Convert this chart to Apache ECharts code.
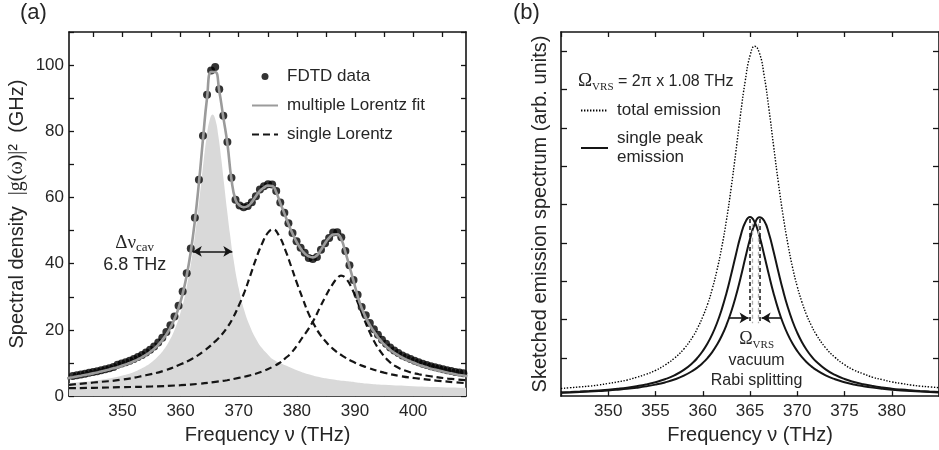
<!DOCTYPE html>
<html>
<head>
<meta charset="utf-8">
<script src="https://cdn.jsdelivr.net/npm/echarts@6/dist/echarts.min.js"></script>
<style>
  html, body { margin: 0; padding: 0; background: #ffffff; }
  #chart { width: 939px; height: 450px; }
</style>
</head>
<body>
<div id="chart"></div>
<script>
// ---------------- Panel (a): cavity spectral density ----------------
// Frequency grid of the FDTD samples (THz)
const fdtdFreq = [
  340.05, 340.75, 341.45, 342.15, 342.85, 343.55, 344.25, 344.95, 345.65, 346.35,
  347.05, 347.75, 348.45, 349.15, 349.85, 350.55, 351.25, 351.95, 352.65, 353.35,
  354.05, 354.75, 355.45, 356.15, 356.85, 357.55, 358.25, 358.95, 359.65, 360.35,
  361.05, 361.75, 362.45, 363.15, 363.85, 364.55, 365.25, 365.95, 366.65, 367.35,
  368.05, 368.75, 369.45, 370.15, 370.85, 371.55, 372.25, 372.95, 373.65, 374.35,
  375.05, 375.75, 376.45, 377.15, 377.85, 378.55, 379.25, 379.95, 380.65, 381.35,
  382.05, 382.75, 383.45, 384.15, 384.85, 385.55, 386.25, 386.95, 387.65, 388.35,
  389.05, 389.75, 390.45, 391.15, 391.85, 392.55, 393.25, 393.95, 394.65, 395.35,
  396.05, 396.75, 397.45, 398.15, 398.85, 399.55, 400.25, 400.95, 401.65, 402.35,
  403.05, 403.75, 404.45, 405.15, 405.85, 406.55, 407.25, 407.95, 408.65, 409.35
];
// FDTD spectral density |g(w)|^2 (GHz)
const fdtdData = [
  5.68, 5.89, 6.10, 6.32, 6.54, 6.77, 7.02, 7.27, 7.54, 7.82,
  8.12, 8.44, 8.78, 9.44, 9.84, 10.26, 10.71, 11.21, 11.78, 12.43,
  13.16, 14.00, 15.01, 16.20, 17.62, 19.33, 21.42, 24.02, 27.30, 31.57,
  37.13, 44.61, 53.87, 65.40, 78.64, 91.06, 98.4, 99.4, 92.7, 84.7,
  76.8, 66.0, 59.3, 57.6, 57.05, 57.4, 58.6, 60.4, 62.4, 63.4,
  64.0, 63.9, 62.0, 58.5, 55.4, 52.2, 49.3, 46.8, 44.8, 43.3,
  41.7, 41.4, 42.0, 44.2, 46.2, 47.8, 49.4, 49.5, 48.0, 43.8,
  39.5, 35.1, 30.6, 26.9, 24.4, 22.1, 20.2, 18.5, 17.0, 15.8,
  14.7, 13.8, 13.0, 12.3, 11.7, 11.2, 10.7, 10.2, 9.8, 9.4,
  9.0, 8.7, 8.4, 8.1, 7.8, 7.6, 7.3, 7.1, 6.9, 6.7
];
// Multiple Lorentz fit on the same grid
const lorentzFit = [
  5.28, 5.49, 5.70, 5.92, 6.14, 6.37, 6.62, 6.87, 7.14, 7.42,
  7.72, 8.04, 8.38, 8.74, 9.14, 9.56, 10.01, 10.51, 11.08, 11.73,
  12.46, 13.30, 14.31, 15.50, 16.92, 18.63, 20.72, 23.32, 26.60, 30.87,
  36.43, 43.61, 52.87, 64.40, 77.64, 90.06, 97.9, 97.9, 92.2, 84.2,
  76.3, 65.5, 59.3, 57.6, 57.05, 57.4, 58.6, 60.4, 62.0, 63.0,
  63.6, 63.5, 61.6, 58.3, 55.2, 52.0, 49.1, 46.6, 44.6, 43.1,
  42.2, 41.9, 42.5, 44.2, 46.2, 47.8, 48.8, 48.9, 47.4, 43.5,
  39.2, 34.8, 30.3, 26.6, 23.7, 21.4, 19.5, 17.8, 16.3, 15.1,
  14.0, 13.1, 12.3, 11.6, 11.0, 10.5, 10.0, 9.5, 9.1, 8.7,
  8.3, 8.0, 7.7, 7.4, 7.1, 6.9, 6.6, 6.4, 6.2, 6.0
];
// Cavity-mode Lorentzian (filled)
const cavityFreq = [
  340.8, 342, 344, 346, 348, 350, 352, 353, 354, 355,
  356, 357, 358, 359, 360, 361, 362, 362.5, 363, 363.5,
  364, 364.5, 365, 365.5, 366, 366.5, 367, 367.5, 368, 368.5,
  369, 370, 371, 372, 373, 374, 375, 376, 378, 380,
  382, 384, 386, 388, 390, 392, 395, 400, 405, 409.1
];
const cavityLorentz = [
  3.9, 4.1, 4.4, 4.9, 5.4, 6.2, 7.3, 8.1, 9.0, 10.2,
  11.8, 13.8, 16.5, 20.2, 25.3, 32.5, 42.5, 48.9, 56.1, 63.8,
  71.6, 78.5, 83.4, 85.1, 83.4, 78.5, 71.6, 63.8, 56.1, 48.9,
  42.5, 32.6, 25.6, 20.8, 17.2, 14.5, 12.6, 11.0, 9.3, 7.8,
  6.6, 5.7, 5.1, 4.6, 4.2, 3.8, 3.4, 3.0, 2.7, 2.5
];
// Second single Lorentzian
const peak2Freq = [
  340.8, 345, 350, 354, 357, 360, 362, 364, 366, 367,
  368, 369, 370, 371, 372, 373, 374, 375, 375.9, 377,
  378, 379, 380, 381, 382, 383, 384, 385, 386, 388,
  390, 392, 395, 398, 401, 404, 407, 409.1
];
const peak2Lorentz = [
  3.4, 4.1, 5.0, 6.3, 7.6, 9.6, 11.3, 13.6, 16.6, 18.4,
  20.7, 23.6, 27.3, 31.5, 36.5, 41.6, 46.0, 49.3, 50.4, 48.2,
  44.2, 39.3, 34.2, 29.5, 25.0, 21.5, 18.6, 16.4, 14.6, 12.0,
  10.1, 8.7, 7.1, 6.0, 5.3, 4.7, 4.2, 3.9
];
// Third single Lorentzian
const peak3Freq = [
  340.8, 345, 350, 355, 360, 363, 366, 368, 370, 372,
  374, 376, 377, 378, 379, 380, 381, 382, 383, 384,
  385, 386, 387, 387.6, 388.5, 389.5, 390.5, 391.5, 392.5, 393.5,
  394.5, 395.5, 397, 399, 401, 403, 406, 409.1
];
const peak3Lorentz = [
  2.4, 2.5, 2.7, 2.9, 3.3, 3.7, 4.3, 4.8, 5.5, 6.3,
  7.4, 9.0, 10.0, 11.4, 13.0, 15.2, 17.8, 20.3, 23.3, 26.9,
  30.3, 33.4, 35.7, 36.4, 35.4, 32.4, 28.2, 23.6, 19.4, 15.9,
  13.2, 11.1, 9.0, 7.5, 6.6, 6.0, 5.3, 4.8
];
const cavityCenter = 365.5;   // THz
const cavityWidth = 6.8;      // THz, FWHM
const xTicksA = [345, 350, 355, 360, 365, 370, 375, 380, 385, 390, 395, 400, 405];
const xLabelsA = [350, 360, 370, 380, 390, 400];
const yTicksA = [0, 10, 20, 30, 40, 50, 60, 70, 80, 90, 100, 110];
const yLabelsA = [0, 20, 40, 60, 80, 100];

// ---------------- Panel (b): sketched emission ----------------
const emisFreq = [
  345, 346, 347, 348, 349, 350, 351, 352, 353, 354, 355, 356, 357, 358,
  359, 359.5, 360, 360.5, 361, 361.5, 362, 362.5, 363, 363.5, 364, 364.5, 365,
  365.5, 366, 366.5, 367, 367.5, 368, 368.5, 369, 369.5, 370, 370.5, 371, 371.5, 372,
  373, 374, 375, 376, 377, 378, 379, 380, 381, 382, 383, 384, 385
];
const singleLow = [
  0.096, 0.106, 0.118, 0.132, 0.149, 0.168, 0.192, 0.221, 0.258, 0.303, 0.362, 0.439, 0.542, 0.684,
  0.884, 1.016, 1.176, 1.370, 1.609, 1.901, 2.256, 2.679, 3.165, 3.684, 4.174, 4.535, 4.670,
  4.535, 4.174, 3.684, 3.165, 2.679, 2.256, 1.901, 1.609, 1.370, 1.176, 1.016, 0.884, 0.775, 0.684,
  0.542, 0.439, 0.362, 0.303, 0.258, 0.221, 0.192, 0.168, 0.149, 0.132, 0.118, 0.106, 0.096
];
const singleHigh = [
  0.087, 0.095, 0.105, 0.117, 0.131, 0.147, 0.167, 0.190, 0.219, 0.254, 0.299, 0.357, 0.432, 0.533,
  0.671, 0.760, 0.866, 0.993, 1.148, 1.337, 1.567, 1.850, 2.195, 2.607, 3.084, 3.601, 4.101,
  4.490, 4.666, 4.574, 4.243, 3.767, 3.247, 2.753, 2.319, 1.953, 1.652, 1.405, 1.204, 1.039, 0.904,
  0.698, 0.552, 0.446, 0.368, 0.308, 0.261, 0.224, 0.194, 0.170, 0.150, 0.133, 0.119, 0.107
];
const totalEmission = [
  0.20, 0.22, 0.24, 0.26, 0.29, 0.33, 0.37, 0.42, 0.49, 0.57, 0.67, 0.81, 0.99, 1.23,
  1.57, 1.80, 2.07, 2.39, 2.79, 3.28, 3.87, 4.58, 5.42, 6.37, 7.35, 8.23, 8.88,
  9.13, 8.95, 8.36, 7.50, 6.52, 5.57, 4.71, 3.98, 3.36, 2.86, 2.45, 2.11, 1.84, 1.61,
  1.26, 1.01, 0.82, 0.68, 0.58, 0.49, 0.43, 0.37, 0.33, 0.29, 0.26, 0.24, 0.22
];
const peakLow = 365.0;        // THz
const rabiSplitting = 1.08;   // THz
const peakHigh = 366.08;      // THz
const xTicksB = [345, 350, 355, 360, 365, 370, 375, 380, 385];
const xLabelsB = [350, 355, 360, 365, 370, 375, 380];
const yTicksB = [1, 2, 3, 4, 5, 6, 7, 8, 9];

// ---------------- Styling helpers ----------------
const SANS = '"Liberation Sans", Arial, Helvetica, sans-serif';
const SERIF = '"Liberation Serif", "Times New Roman", serif';
const INK = '#151515';
const TEXT = '#262626';
const pairs = (xs, ys) => xs.map((x, i) => [x, ys[i]]);
const lineOnlyIcon = { itemStyle: { opacity: 0 } };   // legend entry drawn as a bare line sample

function frameAxis(opts) {
  const base = {
    type: 'value',
    axisLine: { show: true, onZero: false, lineStyle: { color: INK, width: 1.6 } },
    axisTick: { show: true, inside: true, length: 5, lineStyle: { color: INK, width: 1.3 } },
    axisLabel: { show: false },
    splitLine: { show: false }
  };
  const out = Object.assign({}, base, opts);
  out.axisTick = Object.assign({}, base.axisTick, opts.axisTick || {});
  out.axisLabel = Object.assign({}, base.axisLabel, opts.axisLabel || {});
  return out;
}
const tickLabel = { show: true, fontSize: 17, color: TEXT, fontFamily: SANS };

const chart = echarts.init(document.getElementById('chart'));

const option = {
  animation: false,
  textStyle: { fontFamily: SANS },
  grid: [
    { left: 69, right: 473, top: 32, bottom: 53 },
    { left: 561, right: -1, top: 32, bottom: 53 }
  ],
  xAxis: [
    frameAxis({
      gridIndex: 0, position: 'bottom', min: 340.8, max: 409.1,
      axisTick: { customValues: xTicksA },
      axisLabel: Object.assign({}, tickLabel, { customValues: xLabelsA, margin: 7 }),
      name: 'Frequency ν (THz)', nameLocation: 'middle', nameGap: 27,
      nameTextStyle: { fontSize: 20, color: TEXT, fontFamily: SANS }
    }),
    frameAxis({ gridIndex: 0, position: 'top', min: 340.8, max: 409.1, axisTick: { customValues: xTicksA } }),
    frameAxis({
      gridIndex: 1, position: 'bottom', min: 345, max: 385,
      axisTick: { customValues: xTicksB },
      axisLabel: Object.assign({}, tickLabel, { customValues: xLabelsB, margin: 7 }),
      name: 'Frequency ν (THz)', nameLocation: 'middle', nameGap: 27,
      nameTextStyle: { fontSize: 20, color: TEXT, fontFamily: SANS }
    }),
    frameAxis({ gridIndex: 1, position: 'top', min: 345, max: 385, axisTick: { customValues: xTicksB } })
  ],
  yAxis: [
    frameAxis({
      gridIndex: 0, position: 'left', min: 0, max: 110,
      axisTick: { customValues: yTicksA },
      axisLabel: Object.assign({}, tickLabel, { customValues: yLabelsA, margin: 5 }),
      name: '{s|Spectral density  }{g||g(ω)|}{s|²  (GHz)}',
      nameLocation: 'middle', nameGap: 42, nameRotate: 90,
      nameTextStyle: {
        color: TEXT,
        rich: {
          s: { fontSize: 20, fontFamily: SANS, color: TEXT },
          g: { fontSize: 20, fontFamily: SERIF, color: TEXT }
        }
      }
    }),
    frameAxis({ gridIndex: 0, position: 'right', min: 0, max: 110, axisTick: { customValues: yTicksA } }),
    frameAxis({
      gridIndex: 1, position: 'left', min: 0, max: 9.5,
      axisTick: { customValues: yTicksB, length: 6 },
      name: 'Sketched emission spectrum (arb. units)',
      nameLocation: 'middle', nameGap: 11, nameRotate: 90,
      nameTextStyle: { fontSize: 20, color: TEXT, fontFamily: SANS }
    }),
    frameAxis({ gridIndex: 1, position: 'right', min: 0, max: 9.5, axisTick: { customValues: yTicksB, length: 6 } })
  ],
  legend: [
    {
      orient: 'vertical', left: 251, top: 68, padding: 0,
      itemWidth: 26, itemHeight: 7, itemGap: 12, selectedMode: false,
      textStyle: { fontSize: 17, color: TEXT, fontFamily: SANS, padding: [0, 0, 0, 4] },
      data: [
        { name: 'FDTD data', icon: 'circle' },
        Object.assign({ name: 'multiple Lorentz fit' }, lineOnlyIcon),
        Object.assign({ name: 'single Lorentz' }, lineOnlyIcon)
      ]
    },
    {
      orient: 'vertical', left: 580, top: 101, padding: 0,
      itemWidth: 27, itemHeight: 7, itemGap: 9, selectedMode: false,
      textStyle: { fontSize: 17, lineHeight: 19, color: TEXT, fontFamily: SANS, padding: [0, 0, 0, 4] },
      formatter: name => (name === 'single peak emission' ? 'single peak\nemission' : name),
      data: [
        Object.assign({ name: 'total emission' }, lineOnlyIcon),
        Object.assign({ name: 'single peak emission' }, lineOnlyIcon)
      ]
    }
  ],
  graphic: [
    { type: 'text', left: 20, top: 2, style: { text: '(a)', fontSize: 22, fontFamily: SANS, fill: TEXT } },
    { type: 'text', left: 513, top: 2, style: { text: '(b)', fontSize: 22, fontFamily: SANS, fill: TEXT } },
    {
      type: 'text', left: 578, top: 72,
      style: {
        text: '{o|Ω}{s|VRS}{t| = 2π x ' + rabiSplitting + ' THz}',
        fill: TEXT,
        rich: {
          o: { fontSize: 19, fontFamily: SERIF, fill: TEXT, lineHeight: 22 },
          s: { fontSize: 11, fontFamily: SERIF, fill: TEXT, lineHeight: 11, verticalAlign: 'bottom' },
          t: { fontSize: 16, fontFamily: SANS, fill: TEXT, lineHeight: 22 }
        }
      }
    }
  ],
  series: [
    // ----- panel (a) -----
    {
      name: 'cavity mode', type: 'line', xAxisIndex: 0, yAxisIndex: 0,
      data: pairs(cavityFreq, cavityLorentz), smooth: true, symbol: 'none', silent: true,
      lineStyle: { width: 0 }, areaStyle: { color: '#d9d9d9', opacity: 1 }, z: 1,
      markLine: {
        silent: true, symbol: ['arrow', 'arrow'], symbolSize: [8, 9],
        lineStyle: { color: INK, width: 1.6, type: 'solid' }, label: { show: false },
        data: [[
          { coord: [cavityCenter - cavityWidth / 2, 43.7] },
          { coord: [cavityCenter + cavityWidth / 2, 43.7] }
        ]]
      },
      markPoint: {
        silent: true, symbol: 'circle', symbolSize: 1, itemStyle: { color: 'rgba(0,0,0,0)' },
        data: [{
          coord: [352.1, 43],
          label: {
            show: true, position: 'inside', align: 'center', color: TEXT,
            formatter: '{d|Δν}{c|cav}\n{t|' + cavityWidth + ' THz}',
            rich: {
              d: { fontSize: 19, fontFamily: SERIF, color: TEXT, lineHeight: 22 },
              c: { fontSize: 13, fontFamily: SERIF, color: TEXT, lineHeight: 12, verticalAlign: 'bottom' },
              t: { fontSize: 18, fontFamily: SANS, color: TEXT, lineHeight: 21, align: 'center' }
            }
          }
        }]
      }
    },
    {
      name: 'single Lorentz', type: 'line', xAxisIndex: 0, yAxisIndex: 0,
      data: pairs(peak2Freq, peak2Lorentz), smooth: true, symbol: 'none',
      lineStyle: { color: INK, width: 2.2, type: [7, 4] }, itemStyle: { color: INK }, z: 3
    },
    {
      name: 'single Lorentz', type: 'line', xAxisIndex: 0, yAxisIndex: 0,
      data: pairs(peak3Freq, peak3Lorentz), smooth: true, symbol: 'none',
      lineStyle: { color: INK, width: 2.2, type: [7, 4] }, itemStyle: { color: INK }, z: 3
    },
    {
      name: 'FDTD data', type: 'scatter', xAxisIndex: 0, yAxisIndex: 0,
      data: pairs(fdtdFreq, fdtdData), symbol: 'circle', symbolSize: 8,
      itemStyle: { color: '#000000' }, z: 4
    },
    {
      name: 'multiple Lorentz fit', type: 'line', xAxisIndex: 0, yAxisIndex: 0,
      data: pairs(fdtdFreq, lorentzFit), smooth: true, symbol: 'none',
      lineStyle: { color: '#9b9b9b', width: 2.6 }, itemStyle: { color: '#9b9b9b' }, z: 5
    },
    // ----- panel (b) -----
    {
      name: 'total emission', type: 'line', xAxisIndex: 2, yAxisIndex: 2,
      data: pairs(emisFreq, totalEmission), smooth: true, symbol: 'none',
      lineStyle: { color: '#000000', width: 1.4, type: [1.4, 1.6] }, itemStyle: { color: INK }, z: 3
    },
    {
      name: 'single peak emission', type: 'line', xAxisIndex: 2, yAxisIndex: 2,
      data: pairs(emisFreq, singleLow), smooth: true, symbol: 'none',
      lineStyle: { color: INK, width: 2 }, itemStyle: { color: INK }, z: 3,
      markLine: {
        silent: true, symbol: ['none', 'none'], label: { show: false },
        lineStyle: { color: INK, width: 1.5, type: [4, 3] },
        data: [
          [{ coord: [peakLow, 4.62] }, { coord: [peakLow, 1.9] }],
          [{ coord: [peakHigh, 4.62] }, { coord: [peakHigh, 1.9] }],
          [{ coord: [peakLow + 0.2, 4.5], lineStyle: { color: '#b0b0b0', width: 1.3, type: [4, 3] } },
           { coord: [peakLow + 0.2, 1.9] }],
          [{ coord: [peakHigh - 0.2, 4.5], lineStyle: { color: '#b0b0b0', width: 1.3, type: [4, 3] } },
           { coord: [peakHigh - 0.2, 1.9] }],
          [{ coord: [362.8, 2.04], symbol: 'none', lineStyle: { type: 'solid', width: 1.6, color: INK } },
           { coord: [peakLow - 0.15, 2.04], symbol: 'arrow', symbolSize: [8, 9] }],
          [{ coord: [368.3, 2.04], symbol: 'none', lineStyle: { type: 'solid', width: 1.6, color: INK } },
           { coord: [peakHigh + 0.15, 2.04], symbol: 'arrow', symbolSize: [8, 9] }]
        ]
      },
      markPoint: {
        silent: true, symbol: 'circle', symbolSize: 1, itemStyle: { color: 'rgba(0,0,0,0)' },
        data: [{
          coord: [365.7, 0.95],
          label: {
            show: true, position: 'inside', align: 'center', color: TEXT,
            formatter: '{o|Ω}{s|VRS}\n{t|vacuum}\n{t|Rabi splitting}',
            rich: {
              o: { fontSize: 18, fontFamily: SERIF, color: TEXT, lineHeight: 21 },
              s: { fontSize: 11, fontFamily: SERIF, color: TEXT, lineHeight: 10, verticalAlign: 'bottom' },
              t: { fontSize: 16, fontFamily: SANS, color: TEXT, lineHeight: 20, align: 'center' }
            }
          }
        }]
      }
    },
    {
      name: 'single peak emission', type: 'line', xAxisIndex: 2, yAxisIndex: 2,
      data: pairs(emisFreq, singleHigh), smooth: true, symbol: 'none',
      lineStyle: { color: INK, width: 2 }, itemStyle: { color: INK }, z: 3
    }
  ]
};

chart.setOption(option);
</script>
</body>
</html>
